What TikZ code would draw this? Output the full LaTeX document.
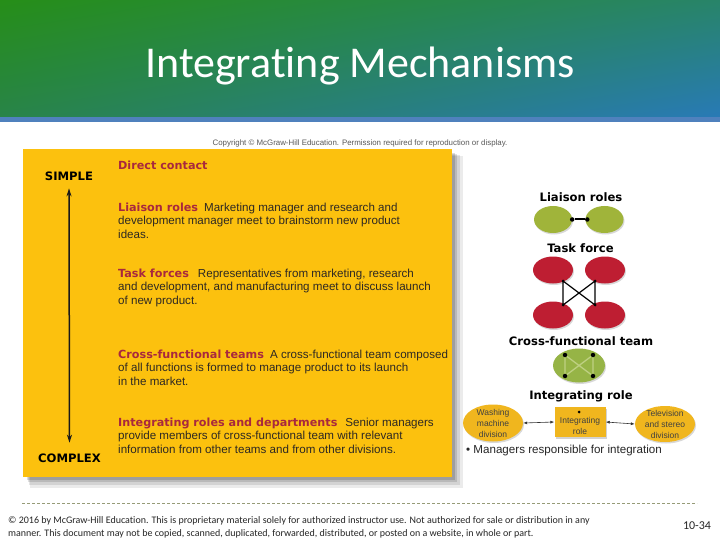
\documentclass[tikz,border=0pt]{standalone}
\usepackage{fontspec}
\setmainfont{Liberation Sans}
\newfontfamily\calfont[Ligatures=NoCommon,Contextuals=NoAlternate]{Carlito}
\newfontfamily\djfont{DejaVu Sans}
\usetikzlibrary{shapes.geometric,arrows.meta,shadows,shadings}
\definecolor{ybox}{RGB}{252,193,14}
\definecolor{hdred}{RGB}{168,40,62}
\definecolor{bodyc}{RGB}{45,40,35}
\definecolor{lgreen}{RGB}{160,180,58}
\definecolor{tred}{RGB}{190,30,50}
\definecolor{cgreen}{RGB}{150,180,70}
\definecolor{cline}{RGB}{190,208,130}
\definecolor{dorange}{RGB}{240,182,30}
\definecolor{stripblue}{RGB}{79,129,189}
\definecolor{dashc}{RGB}{150,155,120}
\definecolor{hul}{RGB}{38,142,24}
\definecolor{hur}{RGB}{40,132,105}
\definecolor{hll}{RGB}{40,132,72}
\definecolor{hlr}{RGB}{40,122,182}
\newcommand\myhead[1]{{\djfont\bfseries\fontsize{11.2}{13}\selectfont\color{hdred}#1}}
\begin{document}
\begin{tikzpicture}[x=1pt,y=-1pt,
  body/.style={anchor=base west, inner sep=0pt, font=\fontsize{11.6}{13}\selectfont, text=bodyc},
  lbl/.style={anchor=base, inner sep=0pt, font=\djfont\bfseries\fontsize{11.6}{13}\selectfont, text=black},
  blob/.style={ellipse, inner sep=0pt, drop shadow={shadow xshift=1pt, shadow yshift=-1.5pt, opacity=0.3}},
  dotn/.style={circle, fill=black, inner sep=0pt, minimum size=4.5pt},
  small/.style={align=center, inner sep=0pt, font=\fontsize{8.5}{11}\selectfont, text=black!75},
  iarrow/.style={{Latex[length=4pt,width=3pt]}-{Latex[length=4pt,width=3pt]}, line width=0.6pt, black!80}
]
\useasboundingbox (0,0) rectangle (720,540);
\fill[white] (0,0) rectangle (720,540);
% header
\shade[upper left=hul, upper right=hur, lower left=hll, lower right=hlr] (0,0) rectangle (720,117);
\fill[stripblue] (0,117) rectangle (720,122);
\node[anchor=base, inner sep=0pt, text=white, font=\calfont\fontsize{44}{44}\selectfont] (title) at (360,78) {Integrat\kern0pt ing Mechanisms};
% copyright line
\node[anchor=base, inner sep=0pt, text=black!65, font=\fontsize{7.9}{9}\selectfont] (copy) at (360,146) {Copyright \textcopyright\ McGraw-Hill Education. Permission required for reproduction or display.};
% yellow box with shadow
\fill[black,opacity=0.08] (30,156) rectangle (463,488);
\fill[black,opacity=0.10] (29,155) rectangle (460,485);
\fill[black,opacity=0.12] (28,154) rectangle (457,482);
\fill[black,opacity=0.14] (27,153) rectangle (455,480);
\fill[ybox] (23,149) rectangle (452,477);
% simple / complex
\node[lbl] (simple) at (69,181) {SIMPLE};
\node[lbl] (complex) at (69.5,462.5) {COMPLEX};
\draw[{Stealth[length=8pt,width=5pt]}-{Stealth[length=8pt,width=5pt]}, line width=1.5pt, black!90]
  ([yshift=-7pt]simple.south) -- ([yshift=11pt]complex.north);
% texts
\node[body] (dc) at (118,170) {\myhead{Direct contact}};
\node[body] (l1) at (118,211.5) {\myhead{Liaison roles}\hspace{6pt}Marketing manager and research and};
\node[body] (l2) at (118,225) {development manager meet to brainstorm new product};
\node[body] (l3) at (118,238.5) {ideas.};
\node[body] (t1) at (118,277) {\myhead{Task forces}\hspace{9pt}Representatives from marketing, research};
\node[body] (t2) at (118,290.5) {and development, and manufacturing meet to discuss launch};
\node[body] (t3) at (118,304) {of new product.};
\node[body] (c1) at (118,358) {\myhead{Cross-functional teams}\hspace{6pt}A cross-functional team composed};
\node[body] (c2) at (118,371.5) {of all functions is formed to manage product to its launch};
\node[body] (c3) at (118,385) {in the market.};
\node[body] (i1) at (118,426) {\myhead{Integrating roles and departments}\hspace{8pt}Senior managers};
\node[body] (i2) at (118,439.5) {provide members of cross-functional team with relevant};
\node[body] (i3) at (118,453) {information from other teams and from other divisions.};
% right: liaison roles
\node[lbl] (liab) at (581,202) {Liaison roles};
\node[blob, fill=lgreen, minimum width=38pt, minimum height=27pt] (ga) at (553,219.5) {};
\node[blob, fill=lgreen, minimum width=38pt, minimum height=27pt] (gb) at (604.5,219.5) {};
\node[dotn, minimum size=4.5pt] (gda) at (ga.east) {};
\node[dotn, minimum size=4.5pt] (gdb) at ([xshift=2pt]gb.west) {};
\draw[line width=2pt] (gda) -- (gdb);
% task force
\node[lbl] (tfl) at (580.5,252.5) {Task force};
\node[blob, fill=tred, minimum width=40pt, minimum height=27pt] (ra) at (553,270) {};
\node[blob, fill=tred, minimum width=40pt, minimum height=27pt] (rb) at (605,270) {};
\node[blob, fill=tred, minimum width=40pt, minimum height=27pt] (rc) at (553,315) {};
\node[blob, fill=tred, minimum width=40pt, minimum height=27pt] (rd) at (605,315) {};
\node[dotn, minimum size=3pt] (rda) at (563,281) {};
\node[dotn, minimum size=3pt] (rdb) at (595,281) {};
\node[dotn, minimum size=3pt] (rdc) at (563,305) {};
\node[dotn, minimum size=3pt] (rdd) at (595,305) {};
\draw[line width=1.2pt] (rda.center) -- (rdc.center) (rdb.center) -- (rdd.center)
  (rda.center) -- (rdd.center) (rdb.center) -- (rdc.center);
% cross-functional team
\node[lbl] (cfl) at (581,345) {Cross-functional team};
\node[blob, fill=cgreen, minimum width=52pt, minimum height=34pt] (cf) at (579,365.5) {};
\node[dotn] (cda) at (565,355) {};
\node[dotn] (cdb) at (593,355) {};
\node[dotn] (cdc) at (565,376) {};
\node[dotn] (cdd) at (593,376) {};
\draw[cline, line width=1.3pt] (cda) -- (cdc) (cdb) -- (cdd) (cda) -- (cdd) (cdb) -- (cdc);
% integrating role
\node[lbl] (irl) at (581,399) {Integrating role};
\node[blob, fill=dorange, minimum width=60pt, minimum height=37pt] (wm) at (493,423) {};
\node[small] (wmt) at (493,423) {Washing\\machine\\division};
\node[blob, fill=dorange, minimum width=60pt, minimum height=36pt] (tv) at (665,424) {};
\node[small] (tvt) at (665,424) {Television\\and stereo\\division};
\node[rectangle, fill=dorange, minimum width=51pt, minimum height=30pt,
      drop shadow={shadow xshift=1.5pt, shadow yshift=-1.5pt, opacity=0.35}] (ir) at (580,422) {};
\node[dotn, minimum size=3pt] (irdot) at (579,412) {};
\node[small] (irt) at (580,426) {Integrating\\role};
\draw[iarrow] (wm.east) -- (ir.west);
\draw[iarrow] (ir.east) -- (tv.west);
\node[body, text=black!85] (mgr) at (466,453) {\textbullet\ Managers responsible for integration};
% footer
\draw[dashc, dash pattern=on 3pt off 2pt, line width=0.8pt] (22,503) -- (697,503);
\node[anchor=base west, inner sep=0pt, text=black!85, font=\calfont\fontsize{10}{12}\selectfont] (f1) at (8,523)
  {\textcopyright\ 2016 by McGraw-Hill Education. This is proprietary material solely for authorized instructor use. Not authorized for sale or distribution in any};
\node[anchor=base west, inner sep=0pt, text=black!85, font=\calfont\fontsize{10}{12}\selectfont] (f2) at (8,536)
  {manner. This document may not be copied, scanned, duplicated, forwarded, distributed, or posted on a website, in whole or part.};
\node[inner sep=0pt, text=black!85, font=\calfont\fontsize{12}{12}\selectfont] (pg) at (697,526) {10-34};
\end{tikzpicture}
\end{document}
